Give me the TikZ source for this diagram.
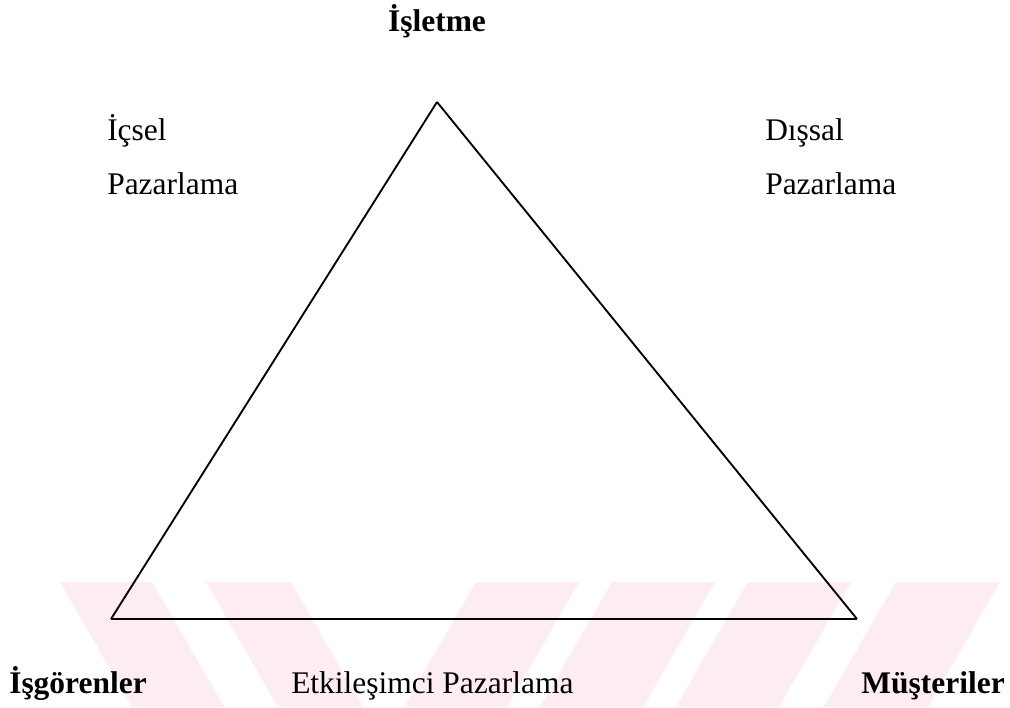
\documentclass[tikz,border=0pt]{standalone}
\usepackage{fontspec}
\setmainfont{Liberation Serif}
\definecolor{wmpink}{RGB}{253,236,240}
\tikzset{
  lbl/.style={inner sep=0pt, font=\fontsize{23.6}{28}\selectfont},
  blbl/.style={lbl, font=\fontsize{23.6}{28}\selectfont\bfseries},
  side/.style={line width=1.4pt, line join=miter},
  wm/.style={fill=wmpink, draw=none}
}
\begin{document}
\begin{tikzpicture}[x=0.75pt, y=-0.75pt]
\useasboundingbox (0,0) rectangle (1010,707);
% watermark stripes
\fill[wm] (60,582) -- (152,582) -- (224,707) -- (132,707) -- cycle;
\fill[wm] (206,582) -- (291,582) -- (363,707) -- (278,707) -- cycle;
\fill[wm] (476,582) -- (579,582) -- (507,707) -- (404,707) -- cycle;
\fill[wm] (612,582) -- (715,582) -- (643,707) -- (540,707) -- cycle;
\fill[wm] (748,582) -- (851,582) -- (779,707) -- (676,707) -- cycle;
\fill[wm] (896,582) -- (1000,582) -- (928,707) -- (824,707) -- cycle;
% triangle
\coordinate (apex) at (437,102);
\coordinate (bl) at (111,619);
\coordinate (br) at (857,619);
\draw[side] (apex) -- (bl);
\draw[side] (apex) -- (br);
\draw[side, line width=2pt] (bl) -- (br);
% labels
\node[blbl, anchor=base] (isletme) at (437,31) {İşletme};
\node[lbl, anchor=base west] (icsel) at (107,140) {İçsel};
\node[lbl, anchor=base west] (icsel2) at (107,194) {Pazarlama};
\node[lbl, anchor=base west] (dissal) at (765,140) {Dışsal};
\node[lbl, anchor=base west] (dissal2) at (765,194) {Pazarlama};
\node[blbl, anchor=base west] (isgorenler) at (9,693) {İşgörenler};
\node[lbl, anchor=base west] (etkilesim) at (291,693) {Etkileşimci Pazarlama};
\node[blbl, anchor=base east] (musteriler) at (1005,693) {Müşteriler};
\end{tikzpicture}
\end{document}
